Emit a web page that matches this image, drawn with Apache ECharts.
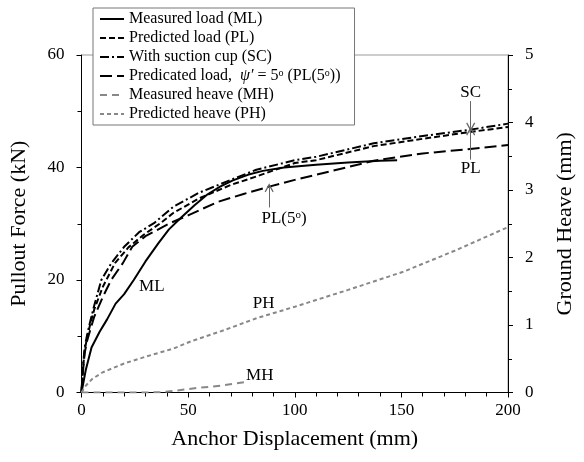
<!DOCTYPE html>
<html>
<head>
<meta charset="utf-8">
<script src="https://cdn.jsdelivr.net/npm/echarts@6/dist/echarts.min.js"></script>
<style>
  html, body { margin: 0; padding: 0; background: #fff; }
  #chart { width: 584px; height: 462px; }
</style>
</head>
<body>
<div id="chart"></div>
<script>
// anchor displacement (mm) / pullout force (kN)
const mlX = [0, 1, 2, 4.7, 8.5, 12, 16, 20, 24.5, 30, 36, 41, 47, 53, 59, 65, 71, 78, 85, 95, 110, 125, 140, 148];
const mlY = [0, 2, 4, 8, 10.8, 13, 15.8, 17.5, 20, 23.3, 26.5, 29, 31.2, 33.3, 35.2, 36.6, 37.7, 38.7, 39.4, 40, 40.5, 40.9, 41.2, 41.3];

const plX = [0, 0.5, 1.5, 2.5, 4, 6, 10, 15.7, 22, 29, 37, 43, 55, 70, 82, 100, 110, 137, 160, 182, 200];
const plY = [0, 3.5, 7.5, 9.5, 12, 14.8, 18.8, 23, 25.8, 28, 30.1, 31.9, 34.5, 36.9, 38.4, 40.8, 41.3, 43.8, 45.1, 46.3, 47.2];

const scX = [0, 0.5, 1.5, 2.5, 4, 6, 9.3, 14, 20, 27, 34, 43, 55, 70, 82, 100, 110, 137, 160, 182, 200];
const scY = [0, 4, 8, 10, 12.5, 15.5, 20, 23, 25.9, 28.5, 30.1, 33, 35.5, 37.8, 39.6, 41.3, 41.9, 44.3, 45.6, 46.7, 47.8];

const pl5X = [0, 0.5, 1.5, 2.5, 4, 6, 10, 13.9, 19.4, 23.8, 30, 41.5, 50, 64, 76, 88, 100, 110, 137, 160, 180, 200];
const pl5Y = [0, 3, 7, 9, 11, 13.5, 17, 20, 23, 25.9, 27.8, 30.1, 31.5, 33.9, 35.3, 36.6, 37.8, 38.7, 41.2, 42.5, 43.2, 44];

// ground heave (mm)
const mhX = [0, 10, 20, 30, 37, 45, 55, 65, 78];
const mhY = [0, 0, 0, 0, 0.005, 0.03, 0.07, 0.1, 0.16];

const phX = [0, 2, 5, 10, 20, 30, 43, 51.5, 67.5, 82, 100, 125, 151, 175, 200];
const phY = [0, 0.1, 0.2, 0.3, 0.43, 0.53, 0.65, 0.76, 0.93, 1.1, 1.27, 1.52, 1.79, 2.1, 2.45];

const seriesNames = [
  'Measured load (ML)',
  'Predicted load (PL)',
  'With suction cup (SC)',
  'Predicated load, psi5',
  'Measured heave (MH)',
  'Predicted heave (PH)'
];

// on-plot labels: [x, y(kN), text]
const noteLabels = [
  [33, 18.8, 'ML'],
  [95, 31, 'PL(5{s|o})'],
  [85.4, 15.9, 'PH'],
  [83.6, 3.1, 'MH'],
  [182.5, 53.4, 'SC'],
  [182.5, 39.9, 'PL']
];
// arrows: [x, yFrom, yTo]
const arrows = [
  [88, 32.9, 36.4],
  [182.5, 51.8, 47.2],
  [182.5, 41.4, 46.5]
];

const FONT = 'Liberation Serif';
const zip = (xs, ys) => xs.map((x, i) => [x, ys[i]]);
const arrowHead = 'path://M0,0 L6,10 L4.6,10.8 L0,3.4 L-4.6,10.8 L-6,10 Z';

const chart = echarts.init(document.getElementById('chart'));

function line(name, xs, ys, color, type, width, yAxisIndex) {
  return {
    name: name,
    type: 'line',
    data: zip(xs, ys),
    yAxisIndex: yAxisIndex || 0,
    symbol: 'none',
    lineStyle: { color: color, type: type, width: width },
    itemStyle: { color: color },
    emphasis: { disabled: true },
    z: 3
  };
}

const axisText = { color: '#000', fontFamily: FONT, fontSize: 17 };
const nameText = { color: '#000', fontFamily: FONT, fontSize: 22 };

const option = {
  backgroundColor: '#fff',
  animation: false,
  grid: {
    left: 81.5,
    right: 67.5,
    top: 55,
    bottom: 69.5,
    show: true,
    borderColor: '#999',
    borderWidth: 1
  },
  legend: {
    data: seriesNames,
    orient: 'vertical',
    left: 93,
    top: 8,
    itemWidth: 24,
    itemHeight: 14,
    itemGap: 3,
    padding: [3, 14, 3, 6],
    backgroundColor: '#fff',
    borderColor: '#777',
    borderWidth: 1,
    borderRadius: 0,
    itemStyle: { opacity: 0 },
    textStyle: {
      color: '#000',
      fontFamily: FONT,
      fontSize: 16,
      rich: {
        i: { fontFamily: FONT, fontSize: 16, fontStyle: 'italic', color: '#000' },
        s: { fontFamily: FONT, fontSize: 10, verticalAlign: 'top', color: '#000' }
      }
    },
    formatter: function (name) {
      if (name === 'Predicated load, psi5') {
        return 'Predicated load,  {i|ψ′} = 5{s|o} (PL(5{s|o}))';
      }
      return name;
    }
  },
  xAxis: {
    type: 'value',
    min: 0,
    max: 200,
    interval: 50,
    name: 'Anchor Displacement (mm)',
    nameLocation: 'middle',
    nameGap: 36,
    nameTextStyle: nameText,
    axisLine: { lineStyle: { color: '#000', width: 1 } },
    axisTick: { length: 5, lineStyle: { color: '#000' } },
    minorTick: { show: true, splitNumber: 5, length: 4, lineStyle: { color: '#000' } },
    splitLine: { show: false },
    axisLabel: Object.assign({ margin: 10 }, axisText)
  },
  yAxis: [
    {
      type: 'value',
      min: 0,
      max: 60,
      interval: 20,
      name: 'Pullout Force (kN)',
      nameLocation: 'middle',
      nameRotate: 90,
      nameGap: 51,
      nameTextStyle: nameText,
      axisLine: { show: true, lineStyle: { color: '#000', width: 1 } },
      axisTick: { show: true, length: 5, lineStyle: { color: '#000' } },
      minorTick: { show: true, splitNumber: 2, length: 4, lineStyle: { color: '#000' } },
      splitLine: { show: false },
      axisLabel: Object.assign({ margin: 17 }, axisText)
    },
    {
      type: 'value',
      position: 'right',
      min: 0,
      max: 5,
      interval: 1,
      name: 'Ground Heave (mm)',
      nameLocation: 'middle',
      nameRotate: 90,
      nameGap: 46,
      nameTextStyle: nameText,
      axisLine: { show: true, lineStyle: { color: '#000', width: 1 } },
      axisTick: { show: true, length: 5, lineStyle: { color: '#000' } },
      minorTick: { show: true, splitNumber: 2, length: 4, lineStyle: { color: '#000' } },
      splitLine: { show: false },
      axisLabel: Object.assign({ margin: 17 }, axisText)
    }
  ],
  series: [
    line(seriesNames[0], mlX, mlY, '#000', 'solid', 2),
    line(seriesNames[1], plX, plY, '#000', [6, 3], 2),
    line(seriesNames[2], scX, scY, '#000', [9, 3, 2, 3], 2),
    line(seriesNames[3], pl5X, pl5Y, '#000', [12, 5], 2),
    line(seriesNames[4], mhX, mhY, '#888', [7, 5], 2, 1),
    line(seriesNames[5], phX, phY, '#888', [4, 3], 2, 1),
    {
      name: 'notes',
      type: 'scatter',
      symbolSize: 0,
      itemStyle: { color: '#000', opacity: 1 },
      emphasis: { disabled: true },
      data: noteLabels.map(d => ({ value: [d[0], d[1]], text: d[2] })),
      label: {
        show: true,
        position: 'inside',
        color: '#000',
        fontFamily: FONT,
        fontSize: 17,
        formatter: p => p.data.text,
        rich: { s: { fontFamily: FONT, fontSize: 11, verticalAlign: 'top', color: '#000' } }
      },
      markLine: {
        silent: true,
        symbol: ['none', arrowHead],
        symbolSize: 9,
        label: { show: false },
        emphasis: { disabled: true },
        lineStyle: { color: '#666', width: 1, type: 'solid', opacity: 1 },
        itemStyle: { color: '#666', opacity: 1 },
        data: arrows.map(a => [{ coord: [a[0], a[1]] }, { coord: [a[0], a[2]] }])
      },
      z: 4
    }
  ]
};

chart.setOption(option);
window.addEventListener('resize', () => chart.resize());
</script>
</body>
</html>
